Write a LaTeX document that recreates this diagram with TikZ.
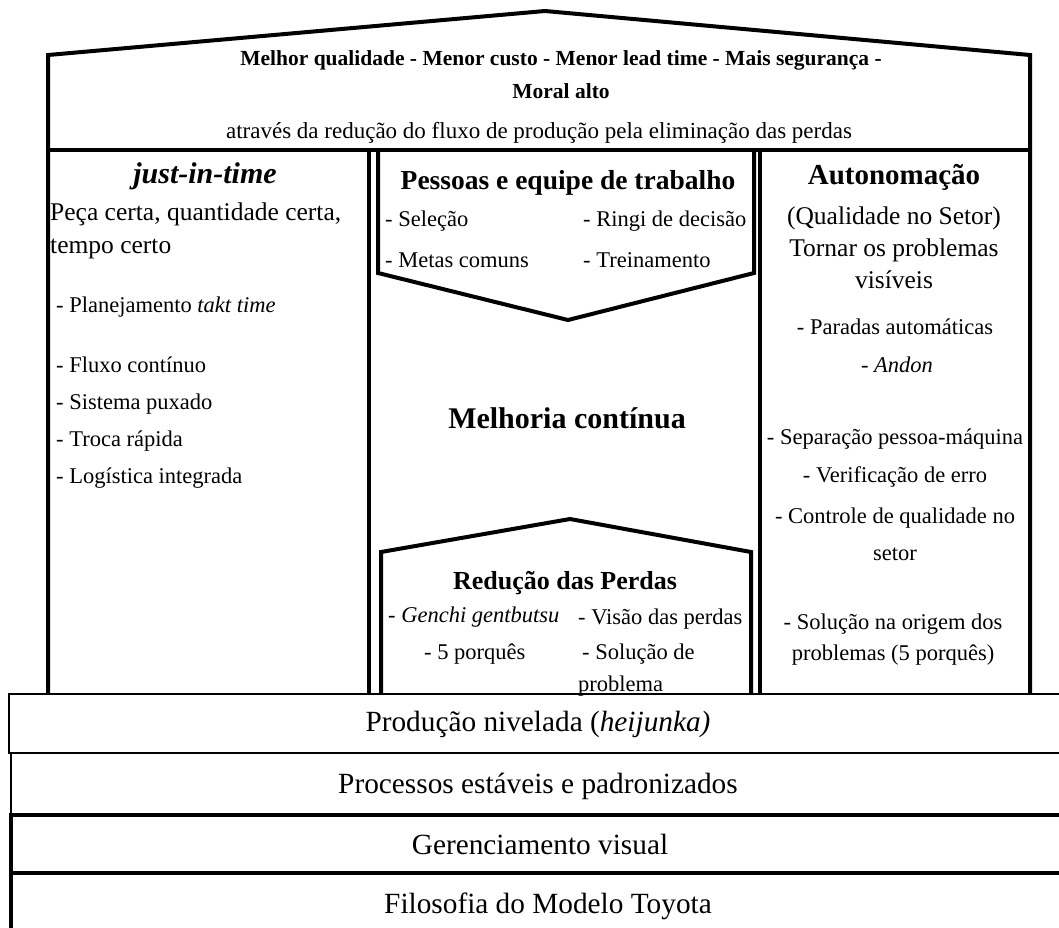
\documentclass[tikz,border=0pt]{standalone}
\usepackage{fontspec}
\setmainfont{Liberation Serif}
\usetikzlibrary{positioning}

\begin{document}
\begin{tikzpicture}[
    x=1pt, y=-1pt,
    wall/.style={line width=4pt, line join=miter},
    band/.style={draw, line width=3.5pt},
    thin band/.style={draw, line width=2.5pt},
    txt/.style={inner sep=0pt, text height=0.7em, text depth=0.2em, yshift=-6pt},
    goal/.style={txt, font=\fontsize{21.5}{26}\selectfont\bfseries},
    heading/.style={txt, font=\fontsize{29}{34}\selectfont\bfseries},
    subheading/.style={txt, font=\fontsize{26}{30}\selectfont\bfseries},
    body/.style={txt, font=\fontsize{25.5}{30}\selectfont},
    item/.style={txt, font=\fontsize{22.5}{26}\selectfont},
    base/.style={txt, font=\fontsize{29.3}{34}\selectfont},
]
\useasboundingbox (0,0) rectangle (1059,927);

\draw[wall] (48,693) -- (48,55) -- (545,11) -- (1030,55) -- (1030,693);
\draw[wall] (46,150) -- (1032,150);
\draw[wall] (369,150) -- (369,693);
\draw[wall] (760,150) -- (760,693);
\draw[wall] (378,150) -- (378,273) -- (568,320) -- (754,273) -- (754,150);
\draw[wall] (381,693) -- (381,552) -- (570,519) -- (751,552) -- (751,693);

\draw[thin band, fill=white] (9,694) rectangle (1075,753);
\draw[thin band] (11,753) rectangle (1075,815);
\draw[band] (11,815) rectangle (1075,873);
\draw[band] (11,873) rectangle (1075,945);

\node[goal] (goal1) at (561,57) {Melhor qualidade - Menor custo - Menor lead time - Mais segurança -};
\node[goal] (goal2) at (561,90) {Moral alto};
\node[body, font=\fontsize{23}{28}\selectfont] (goal3) at (539,130) {através da redução do fluxo de produção pela eliminação das perdas};

\node[heading, font=\fontsize{30}{34}\selectfont\bfseries\itshape] (jit) at (205,175) {just-in-time};
\node[body, right] (jit1) at (50,212) {Peça certa, quantidade certa,};
\node[body, right] (jit2) at (50,245) {tempo certo};
\node[item, right] (jit3) at (56,304) {- Planejamento \textit{takt time}};
\node[item, right] (jit4) at (56,364) {- Fluxo contínuo};
\node[item, right] (jit5) at (56,401) {- Sistema puxado};
\node[item, right] (jit6) at (56,438) {- Troca rápida};
\node[item, right] (jit7) at (56,475) {- Logística integrada};

\node[subheading, font=\fontsize{27.5}{32}\selectfont\bfseries] (people) at (568,181) {Pessoas e equipe de trabalho};
\node[item, right] (people1) at (385,218) {- Seleção};
\node[item, right] (people2) at (583,218) {- Ringi de decisão};
\node[item, right] (people3) at (385,259) {- Metas comuns};
\node[item, right] (people4) at (583,259) {- Treinamento};
\node[heading, font=\fontsize{30}{34}\selectfont\bfseries] (kaizen) at (567,420) {Melhoria contínua};

\node[subheading] (waste) at (565,581) {Redução das Perdas};
\node[item, right] (waste1) at (388,614) {- \textit{Genchi gentbutsu}};
\node[item, right] (waste2) at (578,616) {- Visão das perdas};
\node[item, right] (waste3) at (424,651) {- 5 porquês};
\node[item, right] (waste4) at (582,651) {- Solução de};
\node[item, right] (waste5) at (578,683) {problema};

\node[heading] (jidoka) at (894,176) {Autonomação};
\node[body] (jidoka1) at (894,216) {(Qualidade no Setor)};
\node[body] (jidoka2) at (894,248) {Tornar os problemas};
\node[body] (jidoka3) at (894,280) {visíveis};
\node[item] (jidoka4) at (895,326) {- Paradas automáticas};
\node[item] (jidoka5) at (897,364) {- \textit{Andon}};
\node[item] (jidoka6) at (895,436) {- Separação pessoa-máquina};
\node[item] (jidoka7) at (895,474) {- Verificação de erro};
\node[item] (jidoka8) at (895,515) {- Controle de qualidade no};
\node[item] (jidoka9) at (895,552) {setor};
\node[item] (jidoka10) at (893,621) {- Solução na origem dos};
\node[item] (jidoka11) at (893,652) {problemas (5 porquês)};

\node[base] (heijunka) at (538,723) {Produção nivelada (\textit{heijunka)}};
\node[base] (stable) at (538,785) {Processos estáveis e padronizados};
\node[base] (visual) at (540,846) {Gerenciamento visual};
\node[base] (philosophy) at (548,905) {Filosofia do Modelo Toyota};
\end{tikzpicture}
\end{document}
